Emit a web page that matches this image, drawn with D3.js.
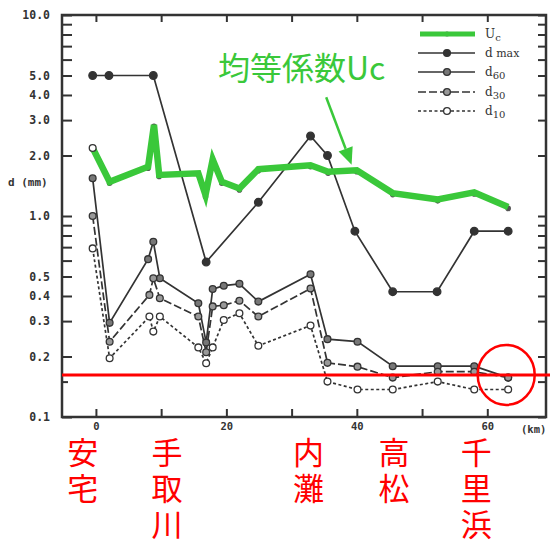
<!DOCTYPE html>
<html>
<head>
<meta charset="utf-8">
<script src="https://cdn.jsdelivr.net/npm/d3@7"></script>
<style>
  body { margin: 0; background: #fff; }
  svg { display: block; }
</style>
</head>
<body>
<script>
// chart size
var w = 550;
var h = 544;

// Uc (uniformity coefficient), km along the coast
var ucKm  = [-0.5, 2.1, 8.0, 8.9, 9.7, 15.7, 16.8, 17.9, 19.3, 22.0, 24.9, 32.9, 35.6, 40.0, 45.5, 52.4, 58.0, 63.2];
var ucVal = [2.18, 1.48, 1.76, 2.84, 1.60, 1.63, 1.27, 1.91, 1.48, 1.37, 1.71, 1.79, 1.66, 1.69, 1.30, 1.21, 1.31, 1.11];

// d max
var dmaxKm  = [-0.5, 2.0, 8.8, 16.9, 24.9, 32.9, 35.5, 39.7, 45.5, 52.3, 58.0, 63.2];
var dmaxVal = [5.0, 5.0, 5.0, 0.59, 1.17, 2.5, 2.0, 0.84, 0.42, 0.42, 0.84, 0.84];

// d60
var d60Km  = [-0.5, 2.1, 8.0, 8.8, 9.8, 15.7, 16.9, 17.9, 19.6, 22.0, 24.9, 32.9, 35.5, 40.1, 45.5, 52.4, 58.0, 63.2];
var d60Val = [1.54, 0.294, 0.61, 0.745, 0.49, 0.368, 0.235, 0.433, 0.45, 0.46, 0.375, 0.513, 0.244, 0.237, 0.179, 0.179, 0.179, 0.157];

// d30
var d30Km  = [-0.5, 2.1, 8.2, 8.8, 9.8, 15.7, 16.9, 17.9, 19.6, 22.0, 24.9, 32.9, 35.5, 40.1, 45.5, 52.4, 58.0, 63.2];
var d30Val = [1.0, 0.237, 0.405, 0.49, 0.39, 0.316, 0.21, 0.355, 0.36, 0.379, 0.316, 0.436, 0.186, 0.178, 0.157, 0.168, 0.168, 0.157];

// d10
var d10Km  = [-0.5, 2.1, 8.2, 8.8, 9.8, 15.7, 16.9, 17.9, 19.6, 22.0, 24.9, 32.9, 35.5, 40.1, 45.5, 52.4, 58.0, 63.2];
var d10Val = [0.69, 0.196, 0.316, 0.266, 0.316, 0.222, 0.185, 0.222, 0.304, 0.328, 0.226, 0.285, 0.15, 0.137, 0.137, 0.15, 0.137, 0.137];

// tick values
var yTicks = [0.1, 0.15, 0.2, 0.3, 0.4, 0.5, 0.6, 0.7, 0.8, 0.9, 1, 2, 3, 4, 5, 6, 7, 8, 9, 10];
var yLabelled = [0.1, 0.2, 0.3, 0.4, 0.5, 1, 2, 3, 4, 5, 10];
var xTicks = [0, 10, 20, 30, 40, 50, 60];
var xLabelled = [0, 20, 40, 60];

// place names under the axis
var placeNames = ["安宅", "手取川", "内灘", "高松", "千里浜"];
var placeKm = [-2.0, 10.9, 32.6, 45.7, 58.3];

// red annotation level and circle
var redLevel = 0.162;
var redCircleKm = 62.9;

var green = "#3ac83a";
var ink = "#333";

var x = d3.scaleLinear().domain([-5.2, 69]).range([62, 546]);
var y = d3.scaleLog().domain([0.1, 10]).range([417, 15]);

var svg = d3.select("body").append("svg")
    .attr("width", w)
    .attr("height", h)
    .style("background", "#fff");

var monoFont = "'DejaVu Sans Mono', monospace";

// left axis, ticks pointing in
var yAxisL = d3.axisLeft(y)
    .tickValues(yTicks)
    .tickSizeInner(-10)
    .tickSizeOuter(0)
    .tickPadding(12)
    .tickFormat(function (d) {
        return yLabelled.indexOf(d) >= 0 ? d.toFixed(1) : "";
    });
var gl = svg.append("g").attr("transform", "translate(62,0)").call(yAxisL);
gl.select(".domain").remove();
gl.selectAll(".tick line").attr("stroke", ink).attr("stroke-width", 2)
    .attr("x2", function (d) { return d === 0.15 ? 6 : 10; });
gl.selectAll(".tick text").attr("font-family", monoFont).attr("font-weight", "bold")
    .attr("font-size", 11.5).attr("fill", ink);

// right axis
var yAxisR = d3.axisRight(y).tickValues(yTicks).tickSizeInner(-8).tickSizeOuter(0).tickFormat("");
var gr = svg.append("g").attr("transform", "translate(546,0)").call(yAxisR);
gr.select(".domain").remove();
gr.selectAll(".tick line").attr("stroke", ink).attr("stroke-width", 2);

// bottom axis
var xAxisB = d3.axisBottom(x)
    .tickValues(xTicks)
    .tickSizeInner(-8)
    .tickSizeOuter(0)
    .tickPadding(6)
    .tickFormat(function (d) { return xLabelled.indexOf(d) >= 0 ? d : ""; });
var gb = svg.append("g").attr("transform", "translate(0,417)").call(xAxisB);
gb.select(".domain").remove();
gb.selectAll(".tick line").attr("stroke", ink).attr("stroke-width", 2);
gb.selectAll(".tick text").attr("font-family", monoFont).attr("font-weight", "bold")
    .attr("font-size", 10.5).attr("fill", ink);

// top axis
var xAxisT = d3.axisTop(x).tickValues(xTicks).tickSizeInner(-7).tickSizeOuter(0).tickFormat("");
var gt = svg.append("g").attr("transform", "translate(0,15)").call(xAxisT);
gt.select(".domain").remove();
gt.selectAll(".tick line").attr("stroke", ink).attr("stroke-width", 2);

// frame
svg.append("rect")
    .attr("x", 62).attr("y", 15)
    .attr("width", 546 - 62).attr("height", 417 - 15)
    .attr("fill", "none").attr("stroke", ink).attr("stroke-width", 2.5);

// axis titles
svg.append("text").attr("x", 8).attr("y", 186)
    .attr("font-family", monoFont).attr("font-weight", "bold").attr("font-size", 11)
    .attr("fill", ink).text("d (mm)");
svg.append("text").attr("x", 521).attr("y", 433)
    .attr("font-family", monoFont).attr("font-weight", "bold").attr("font-size", 10.5)
    .attr("fill", ink).text("(km)");

function pts(km, val) {
    return km.map(function (k, i) { return { km: k, v: val[i] }; });
}

var line = d3.line()
    .x(function (d) { return x(d.km); })
    .y(function (d) { return y(d.v); });

var series = [
    { name: "dmax", data: pts(dmaxKm, dmaxVal), dash: null, fill: ink },
    { name: "d60", data: pts(d60Km, d60Val), dash: null, fill: "#777" },
    { name: "d30", data: pts(d30Km, d30Val), dash: "8,3", fill: "#999" },
    { name: "d10", data: pts(d10Km, d10Val), dash: "3,2.5", fill: "#fff" }
];

series.forEach(function (s) {
    svg.append("path")
        .datum(s.data)
        .attr("d", line)
        .attr("fill", "none")
        .attr("stroke", ink)
        .attr("stroke-width", 1.7)
        .attr("stroke-dasharray", s.dash);
});
series.forEach(function (s) {
    svg.append("g").selectAll("circle")
        .data(s.data)
        .enter().append("circle")
        .attr("cx", function (d) { return x(d.km); })
        .attr("cy", function (d) { return y(d.v); })
        .attr("r", s.name === "dmax" ? 3.8 : 3.4)
        .attr("fill", s.fill)
        .attr("stroke", ink)
        .attr("stroke-width", 1.3);
});

// Uc line with small dots beneath
var ucData = pts(ucKm, ucVal);
svg.append("g").selectAll("circle")
    .data(ucData.slice(1))
    .enter().append("circle")
    .attr("cx", function (d) { return x(d.km); })
    .attr("cy", function (d) { return y(d.v) + 1.5; })
    .attr("r", 2.8)
    .attr("fill", "#555");
svg.append("path")
    .datum(ucData)
    .attr("d", line)
    .attr("fill", "none")
    .attr("stroke", green)
    .attr("stroke-width", 6.5)
    .attr("stroke-linejoin", "miter");
svg.append("circle")
    .attr("cx", x(ucData[0].km)).attr("cy", y(ucData[0].v))
    .attr("r", 3.4).attr("fill", "#fff").attr("stroke", ink).attr("stroke-width", 1.3);

// legend
var legendNames = [["U", "c"], ["d", " max"], ["d", "60"], ["d", "30"], ["d", "10"]];
var legendY = [34, 53, 72, 92, 111];
var legendDash = [null, null, null, "8,3", "3,2.5"];
var legendFill = ["#555", ink, "#777", "#999", "#fff"];
legendNames.forEach(function (n, i) {
    var g = svg.append("g").attr("transform", "translate(0," + legendY[i] + ")");
    if (i === 0) {
        g.append("circle").attr("cx", 447).attr("cy", 0).attr("r", 2.5).attr("fill", "#555");
        g.append("line").attr("x1", 420).attr("x2", 475)
            .attr("stroke", green).attr("stroke-width", 5);
    } else {
        g.append("line").attr("x1", 418).attr("x2", 475)
            .attr("stroke", ink).attr("stroke-width", 1.7)
            .attr("stroke-dasharray", legendDash[i]);
        g.append("circle").attr("cx", 447).attr("cy", 0).attr("r", 3.4)
            .attr("fill", legendFill[i]).attr("stroke", ink).attr("stroke-width", 1.3);
    }
    var t = g.append("text").attr("x", 485).attr("y", 4)
        .attr("font-family", "'DejaVu Serif', serif").attr("font-size", 12).attr("fill", ink);
    t.append("tspan").text(n[0]);
    t.append("tspan").attr("dy", i === 1 ? 0 : 3).attr("font-size", i === 1 ? 11 : 10).text(n[1]);
});

// red annotation: horizontal level and circle
svg.append("line")
    .attr("x1", 62).attr("x2", 550)
    .attr("y1", y(redLevel)).attr("y2", y(redLevel))
    .attr("stroke", "#ff0000").attr("stroke-width", 3);
svg.append("ellipse")
    .attr("cx", x(redCircleKm)).attr("cy", y(redLevel))
    .attr("rx", 28.5).attr("ry", 30)
    .attr("fill", "none").attr("stroke", "#ff0000").attr("stroke-width", 2.5);

// green annotation text and arrow
svg.append("text")
    .attr("x", 218).attr("y", 80)
    .attr("font-family", "'Noto Sans CJK JP', sans-serif")
    .attr("font-size", 32).attr("fill", green)
    .text("均等係数Uc");

var ax1 = x(35.3), ay1 = y(3.9), ax2 = x(39.2), ay2 = y(1.8);
var ang = Math.atan2(ay2 - ay1, ax2 - ax1);
var headLen = 17, headW = 7.5;
var bx = ax2 - headLen * Math.cos(ang), by = ay2 - headLen * Math.sin(ang);
svg.append("line")
    .attr("x1", ax1).attr("y1", ay1).attr("x2", bx).attr("y2", by)
    .attr("stroke", green).attr("stroke-width", 2.5);
svg.append("path")
    .attr("d", "M" + ax2 + "," + ay2 +
        "L" + (bx + headW * Math.sin(ang)) + "," + (by - headW * Math.cos(ang)) +
        "L" + (bx - headW * Math.sin(ang)) + "," + (by + headW * Math.cos(ang)) + "Z")
    .attr("fill", green);

// place names, written vertically (one text per column)
placeNames.forEach(function (name, i) {
    svg.append("text")
        .attr("x", x(placeKm[i]))
        .attr("y", 437)
        .style("writing-mode", "vertical-rl")
        .attr("font-family", "'Noto Sans CJK JP', sans-serif")
        .attr("font-size", 31)
        .attr("letter-spacing", 5)
        .attr("fill", "#ff0000")
        .text(name);
});
</script>
</body>
</html>
